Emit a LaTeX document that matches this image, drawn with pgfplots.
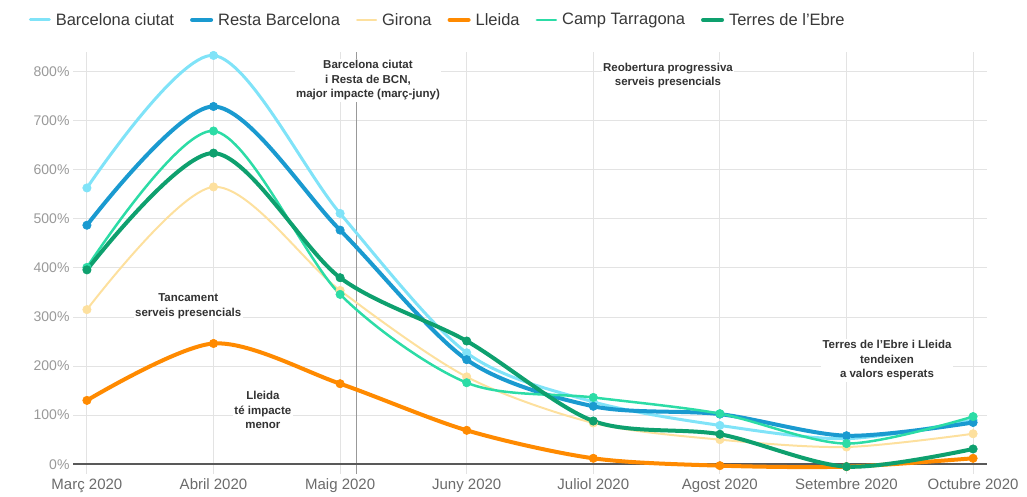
\documentclass[border=0pt]{standalone}
\usepackage{fontspec}
\setmainfont{Liberation Sans}
\usepackage{pgfplots}
\pgfplotsset{compat=1.18}
\definecolor{cBC}{HTML}{80E3F8}
\definecolor{cRB}{HTML}{1A9AD0}
\definecolor{cGI}{HTML}{FDE09E}
\definecolor{cLL}{HTML}{FF8A00}
\definecolor{cCT}{HTML}{2CDCA6}
\definecolor{cTE}{HTML}{0EA06E}
\definecolor{txt}{HTML}{333333}
\begin{document}
\begin{tikzpicture}[x=1pt,y=1pt]
\useasboundingbox (0,0) rectangle (1027,497);
\begin{axis}[
  at={(73pt,23pt)}, anchor=south west, scale only axis,
  width=914pt, height=422pt,
  xmin=-0.11, xmax=7.11, ymin=-20, ymax=840,
  axis line style={draw=none},
  tick style={draw=none},
  grid=major,
  grid style={color=black!11, line width=0.9pt},
  xtick={0,...,7},
  xticklabels={Març 2020, Abril 2020, Maig 2020, Juny 2020, Juliol 2020, Agost 2020, Setembre 2020, Octubre 2020},
  ytick={0,100,...,800},
  yticklabel={\pgfmathprintnumber{\tick}\%},
  /pgf/number format/assume math mode=true,
  x tick label style={font=\fontsize{15}{17}\selectfont, text=black!58, yshift=-1pt},
  y tick label style={font=\fontsize{14}{16}\selectfont, text=black!40},
  legend columns=6,
  legend style={draw=none, fill=none, at={(0.399,1.076)}, anchor=center,
    font=\fontsize{16.5}{18}\selectfont, text=black!78,
    /tikz/every even column/.append style={column sep=14pt},
    /tikz/every odd column/.append style={column sep=3pt}},
  legend image code/.code={\draw[#1,mark=none,line cap=round] (0pt,0pt) -- (19pt,0pt);},
  every axis plot/.append style={smooth, tension=0.5, mark=*, mark size=4.2pt, mark options={solid, line width=0.6pt}},
]
\draw[black!40, line width=1.2pt] (axis cs:2.13,-20) -- (axis cs:2.13,840);
\draw[black!65, line width=1.5pt] (axis cs:-0.11,0) -- (axis cs:7.11,0);

\begin{scope}[every node/.style={font=\bfseries\fontsize{11.5}{14.5}\selectfont, align=center, text=txt, fill=white, inner sep=1.5pt}]
\node at (axis cs:2.22,782) {Barcelona ciutat\\i Resta de BCN,\\major impacte (març-juny)};
\node at (axis cs:4.59,792) {Reobertura progressiva\\serveis presencials};
\node at (axis cs:0.80,322) {Tancament\\serveis presencials};
\node at (axis cs:1.39,110) {Lleida\\té impacte\\menor};
\node at (axis cs:6.32,212) {Terres de l'Ebre i Lleida\\tendeixen\\a valors esperats};
\end{scope}

\addplot[color=cBC, line width=3pt] coordinates {(0,563) (1,833) (2,511) (3,227) (4,127) (5,79) (6,52) (7,90)};
\addlegendentry{Barcelona ciutat}
\addplot[color=cRB, line width=4pt] coordinates {(0,487) (1,729) (2,477) (3,213) (4,118) (5,102) (6,58) (7,85)};
\addlegendentry{Resta Barcelona}
\addplot[color=cGI, line width=2pt] coordinates {(0,315) (1,565) (2,354) (3,178) (4,84) (5,50) (6,35) (7,62)};
\addlegendentry{Girona}
\addplot[color=cLL, line width=4pt] coordinates {(0,130) (1,246) (2,164) (3,69) (4,12) (5,-3) (6,-5) (7,12)};
\addlegendentry{Lleida}
\addplot[color=cCT, line width=2.5pt] coordinates {(0,401) (1,679) (2,346) (3,166) (4,136) (5,103) (6,42) (7,97)};
\addlegendentry{Camp Tarragona}
\addplot[color=cTE, line width=4pt] coordinates {(0,396) (1,634) (2,380) (3,251) (4,88) (5,61) (6,-5) (7,31)};
\addlegendentry{Terres de l'Ebre}
\end{axis}
\end{tikzpicture}
\end{document}
